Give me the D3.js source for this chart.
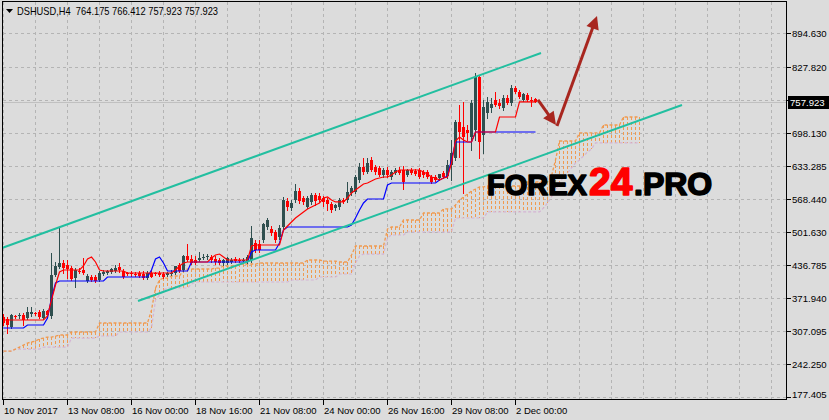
<!DOCTYPE html>
<html><head><meta charset="utf-8">
<script src="https://cdn.jsdelivr.net/npm/d3@7"></script>
<style>
html,body{margin:0;padding:0;background:#dcdcdc;overflow:hidden}
svg{display:block}
</style></head><body>
<svg id="chart" width="829" height="420"></svg>
<script>
// ---------------- DATA ----------------
const titleText = "DSHUSD,H4  764.175 766.412 757.923 757.923";
const lastPrice = 757.923;

const opens = [335.1,331.2,315.4,337.1,337.1,339.1,333.2,341.0,343.0,345.0,
333.2,346.9,337.1,417.9,433.6,441.5,437.6,431.6,411.9,425.7,
427.7,406.0,413.9,413.9,408.0,419.8,421.8,423.8,425.7,433.6,
425.7,421.8,421.8,419.8,421.8,419.8,411.9,421.8,421.8,421.8,
419.8,417.9,419.8,421.8,437.6,427.7,455.3,449.4,447.4,447.4,
451.4,453.3,453.3,449.4,447.4,441.5,441.5,443.5,449.4,447.4,
445.4,443.5,447.4,480.9,478.9,486.9,512.5,508.6,502.6,492.8,
512.5,563.7,549.9,565.7,583.4,569.6,551.9,561.8,575.6,573.6,
569.6,565.7,557.8,549.9,551.9,565.7,565.7,579.5,581.5,605.1,
630.7,620.8,644.5,630.7,628.8,614.9,624.8,611.0,618.9,624.8,
624.8,614.9,624.8,622.8,624.8,620.8,620.8,611.0,611.0,609.1,
618.9,613.0,634.7,648.5,719.4,709.6,703.7,689.9,703.7,808.1,
693.8,737.2,747.0,762.8,756.9,747.0,766.7,756.9,786.4,778.6,
762.8,772.6,762.8,764.175];
const highs = [341.0,335.1,341.0,339.1,343.0,343.0,354.8,354.8,345.0,348.9,
350.9,348.9,461.2,443.5,512.5,447.4,447.4,435.6,431.6,431.6,
451.4,419.8,417.9,417.9,425.7,427.7,427.7,431.6,437.6,441.5,
429.7,423.8,425.7,423.8,425.7,425.7,425.7,427.7,423.8,425.7,
423.8,423.8,427.7,431.6,441.5,457.3,478.9,457.3,455.3,463.2,
459.2,459.2,457.3,455.3,451.4,449.4,453.3,451.4,453.3,451.4,
451.4,457.3,514.5,486.9,486.9,520.4,530.2,514.5,506.6,516.4,
571.6,569.6,565.7,597.2,589.3,573.6,573.6,579.5,579.5,579.5,
573.6,569.6,561.8,557.8,569.6,569.6,601.2,593.3,614.9,638.6,
648.5,648.5,650.4,634.7,632.7,628.8,630.7,624.8,628.8,630.7,
632.7,626.8,628.8,626.8,628.8,624.8,624.8,614.9,614.9,616.9,
622.8,644.5,684.0,723.4,752.9,758.9,713.5,762.8,816.0,812.1,
762.8,768.7,766.7,778.6,764.8,772.6,772.6,792.4,790.4,782.5,
776.6,776.6,768.7,766.412];
const lows = [319.3,303.5,313.4,333.2,333.2,319.3,331.2,337.1,339.1,333.2,
331.2,333.2,333.2,415.9,431.6,421.8,411.9,408.0,394.2,421.8,
419.8,404.1,406.0,404.1,406.0,417.9,419.8,421.8,423.8,423.8,
411.9,417.9,415.9,415.9,413.9,410.0,410.0,413.9,417.9,415.9,
411.9,415.9,417.9,419.8,423.8,425.7,445.4,439.5,439.5,445.4,
449.4,449.4,443.5,439.5,439.5,437.6,439.5,441.5,443.5,443.5,
443.5,441.5,443.5,463.2,463.2,482.9,508.6,496.7,482.9,488.8,
508.6,546.0,546.0,561.8,559.8,557.8,549.9,557.8,555.8,561.8,
553.9,546.0,542.1,546.0,548.0,559.8,561.8,575.6,579.5,601.2,
616.9,618.9,622.8,616.9,613.0,611.0,611.0,607.1,616.9,616.9,
587.4,613.0,616.9,614.9,609.1,611.0,609.1,599.2,603.1,605.1,
609.1,609.1,605.1,644.5,650.4,579.5,684.0,664.3,684.0,648.5,
658.3,727.3,739.2,751.0,747.0,744.0,754.9,752.9,776.6,766.7,
760.8,760.8,751.0,757.923];
const closes = [323.3,319.3,339.1,335.1,339.1,329.2,345.0,345.0,341.0,335.1,
346.9,339.1,417.9,435.6,441.5,431.6,429.7,410.0,427.7,423.8,
421.8,415.9,408.0,406.0,421.8,423.8,425.7,429.7,431.6,427.7,
413.9,419.8,419.8,417.9,415.9,411.9,421.8,413.9,419.8,417.9,
413.9,421.8,421.8,435.6,425.7,455.3,447.4,441.5,441.5,451.4,
453.3,455.3,447.4,443.5,441.5,447.4,451.4,447.4,445.4,445.0,
447.4,453.3,490.8,467.1,467.1,518.4,526.3,500.6,486.9,510.5,
565.7,551.9,559.8,583.4,563.7,561.8,569.6,575.6,563.7,565.7,
561.8,557.8,546.0,555.8,565.7,561.8,581.5,589.3,611.0,630.7,
620.8,638.6,624.8,620.8,614.9,624.8,614.9,620.8,624.8,618.9,
601.2,624.8,618.9,616.9,611.0,614.9,611.0,601.2,605.1,616.9,
611.0,634.7,658.3,719.4,699.7,689.9,697.8,756.9,808.1,680.0,
749.0,758.9,754.9,752.9,751.0,766.7,756.9,786.4,778.6,768.7,
774.6,762.8,760.8,757.923];

// Ichimoku: Tenkan-sen (red), Kijun-sen (blue)
const tenkan = [329.2,329.2,329.2,329.2,329.2,329.2,329.2,329.2,329.2,329.2,
329.2,337.1,368.6,398.2,423.8,427.7,427.7,427.7,427.7,427.7,
435.6,449.4,453.3,443.5,427.7,425.7,425.7,425.7,425.7,425.7,
425.7,421.8,421.8,421.8,421.8,421.8,421.8,421.8,421.8,421.8,
421.8,421.8,421.8,427.7,435.6,441.5,443.5,443.5,443.5,443.5,
443.5,443.5,451.4,457.3,459.2,453.3,447.4,447.4,447.4,447.4,
447.4,447.4,475.0,477.0,477.0,477.0,477.0,477.0,477.0,477.0,
506.6,514.5,522.3,530.2,536.1,542.1,548.0,551.9,555.8,559.8,
569.6,571.6,565.7,561.8,561.8,561.8,569.6,579.5,585.4,591.4,
597.2,599.2,603.1,607.1,609.1,611.0,611.0,614.9,620.8,624.8,
624.8,624.8,624.8,624.8,624.8,620.8,616.9,611.0,609.1,605.1,
609.1,611.0,638.6,682.0,689.9,684.0,680.0,680.0,699.7,699.7,
699.7,699.7,699.7,699.7,729.3,729.3,729.3,729.3,729.3,758.9,
758.9,758.9,758.9,758.9];
const kijun = [313.4,313.4,313.4,313.4,313.4,313.4,319.3,319.3,319.3,319.3,
319.3,333.2,372.5,402.1,406.0,406.0,406.0,406.0,406.0,406.0,
406.0,406.0,406.0,406.0,406.0,406.0,413.9,413.9,413.9,413.9,
413.9,413.9,413.9,413.9,413.9,413.9,413.9,427.7,449.4,453.3,
441.5,425.7,425.7,425.7,425.7,425.7,425.7,443.5,443.5,443.5,
443.5,443.5,443.5,443.5,443.5,443.5,443.5,443.5,443.5,443.5,
443.5,443.5,463.2,467.1,467.1,467.1,467.1,467.1,467.1,480.9,
506.6,512.5,512.5,512.5,512.5,512.5,512.5,512.5,512.5,512.5,
512.5,512.5,512.5,512.5,512.5,512.5,512.5,516.4,530.2,546.0,
559.8,567.7,567.7,567.7,567.7,567.7,595.3,599.2,599.2,599.2,
599.2,599.2,599.2,599.2,599.2,599.2,599.2,599.2,599.2,605.1,
609.1,613.0,644.5,680.0,680.0,680.0,680.0,680.0,699.7,699.7,
699.7,699.7,699.7,699.7,699.7,699.7,699.7,699.7,699.7,699.7,
699.7,699.7,699.7,699.7];
// Senkou span A (sandy brown) and B (thistle), shifted 26 bars ahead
const spanA = [268.0,268.0,268.0,271.9,275.9,279.8,283.8,285.8,287.7,291.7,
293.6,295.6,295.6,297.6,299.6,299.6,299.6,305.5,305.5,305.5,
305.5,305.5,305.5,305.5,323.3,323.3,323.3,323.3,323.3,323.3,
323.3,323.3,323.3,323.3,323.3,323.3,323.3,348.9,392.2,408.0,
411.9,411.9,415.9,415.9,415.9,427.7,429.7,429.7,429.7,429.7,
429.7,429.7,429.7,431.6,431.6,435.6,435.6,435.6,435.6,439.5,
439.5,439.5,439.5,439.5,441.5,441.5,441.5,441.5,441.5,441.5,
441.5,441.5,441.5,441.5,441.5,441.5,447.4,447.4,447.4,447.4,
445.4,445.4,445.4,445.4,443.5,443.5,443.5,457.3,475.0,475.0,
475.0,475.0,475.0,475.0,475.0,475.0,508.6,512.5,512.5,512.5,
526.3,526.3,526.3,526.3,526.3,540.1,540.1,540.1,540.1,540.1,
548.0,548.0,548.0,555.8,565.7,571.6,577.5,583.4,587.4,591.4,
591.4,593.3,593.3,593.3,593.3,593.3,593.3,593.3,593.3,593.3,
601.2,601.2,601.2,601.2,601.2,601.2,601.2,613.0,644.5,682.0,
682.0,682.0,682.0,682.0,697.8,697.8,697.8,697.8,697.8,697.8,
713.5,713.5,713.5,713.5,713.5,729.3,729.3,729.3,729.3,729.3];
const spanB = [268.0,268.0,268.0,271.9,271.9,271.9,271.9,271.9,271.9,271.9,
275.9,275.9,275.9,275.9,275.9,275.9,275.9,293.6,293.6,293.6,
293.6,293.6,293.6,293.6,297.6,297.6,297.6,297.6,297.6,305.5,
305.5,305.5,305.5,305.5,305.5,305.5,305.5,313.4,368.6,378.5,
388.3,392.2,392.2,392.2,392.2,392.2,392.2,400.1,404.1,404.1,
404.1,404.1,404.1,404.1,404.1,404.1,404.1,404.1,404.1,404.1,
404.1,404.1,404.1,404.1,404.1,404.1,404.1,404.1,404.1,404.1,
404.1,404.1,408.0,408.0,408.0,408.0,408.0,408.0,408.0,413.9,
413.9,413.9,413.9,413.9,419.8,419.8,419.8,419.8,441.5,455.3,
459.2,459.2,459.2,459.2,459.2,459.2,490.8,496.7,496.7,496.7,
496.7,502.6,502.6,502.6,502.6,502.6,502.6,502.6,502.6,502.6,
502.6,502.6,502.6,530.2,530.2,530.2,530.2,530.2,530.2,530.2,
530.2,542.1,542.1,542.1,542.1,542.1,542.1,542.1,542.1,542.1,
542.1,542.1,542.1,542.1,542.1,549.9,559.8,571.6,585.4,599.2,
611.0,618.9,628.8,638.6,644.5,652.4,660.3,666.2,678.1,678.1,
678.1,678.1,678.1,678.1,678.1,678.1,678.1,678.1,678.1,678.1];

// Axis
const gridPrices = [894.630,827.820,762.975,698.130,633.285,568.440,501.630,436.785,371.940,307.095,242.250,177.405];
const priceLabels = ["894.630","827.820","","698.130","633.285","568.440","501.630","436.785","371.940","307.095","242.250","177.405"];
const dateIndex = [0,16,32,48,64,80,96,112,128];
const dateLabels = ["10 Nov 2017","13 Nov 08:00","16 Nov 00:00","18 Nov 16:00","21 Nov 08:00","24 Nov 00:00","26 Nov 16:00","29 Nov 08:00","2 Dec 00:00"];

// Drawn objects: [barIndex, price]
const upperChannel = [[-0.25,471.1],[134.5,855.4]];
const lowerChannel = [[33.75,366.6],[169.75,752.9]];
const arrows = [[[133.75,762.8],[138.25,713.5]],[[138.5,711.6],[148.5,928.4]]];
const watermarkParts = ["FOREX","24",".PRO"];

// ---------------- DRAW ----------------
const W = 829, H = 420;
const svg = d3.select("#chart");
const x = d3.scaleLinear().domain([0, 195.75]).range([3, 786]);
const y = d3.scaleLinear().domain([177.405, 827.82]).range([397, 67]);

svg.append("rect").attr("width", W).attr("height", H).attr("fill", "#dcdcdc");
svg.append("defs").append("clipPath").attr("id", "clip")
  .append("rect").attr("x", 3).attr("y", 2).attr("width", 783).attr("height", 397);
const g = svg.append("g").attr("clip-path", "url(#clip)");

const gridColor = "#b4b4b4";
g.selectAll(".vg").data(d3.range(0, 196, 8)).join("line")
  .attr("x1", d => Math.round(x(d)) + 0.5).attr("x2", d => Math.round(x(d)) + 0.5)
  .attr("y1", 2).attr("y2", 399)
  .attr("stroke", gridColor).attr("stroke-dasharray", "3,3").attr("shape-rendering", "crispEdges");
g.selectAll(".hg").data(gridPrices).join("line")
  .attr("y1", d => Math.round(y(d)) + 0.5).attr("y2", d => Math.round(y(d)) + 0.5)
  .attr("x1", 3).attr("x2", 786)
  .attr("stroke", gridColor).attr("stroke-dasharray", "3,3").attr("shape-rendering", "crispEdges");

// bid line
g.append("line").attr("x1", 3).attr("x2", 786)
  .attr("y1", Math.round(y(lastPrice)) + 0.5).attr("y2", Math.round(y(lastPrice)) + 0.5)
  .attr("stroke", "#c0c0c0").attr("shape-rendering", "crispEdges");

// cloud hatch
const cloudCol = "#f09a50";
const cloud = spanA.map((a, i) => ({i, a, b: spanB[i]}));
g.selectAll(".hatch").data(cloud).join("line")
  .attr("x1", d => Math.round(x(d.i)) + 0.5).attr("x2", d => Math.round(x(d.i)) + 0.5)
  .attr("y1", d => y(d.a)).attr("y2", d => y(d.b))
  .attr("stroke", cloudCol).attr("stroke-dasharray", "3,2").attr("shape-rendering", "crispEdges");

const line = d3.line().x((d, i) => x(i) + 0.5).y(d => y(d));
g.append("path").attr("d", line(spanB)).attr("fill", "none").attr("stroke", "#d4b4d4").attr("stroke-dasharray", "3,2").attr("stroke-width", 1.2);
g.append("path").attr("d", line(spanA)).attr("fill", "none").attr("stroke", cloudCol).attr("stroke-dasharray", "3,2").attr("stroke-width", 1.3);

// candles
const bars = opens.map((o, i) => ({i, o, h: highs[i], l: lows[i], c: closes[i]}));
const bullCol = "#2f4f4f", bearCol = "#ff0000";
const cg = g.append("g").attr("shape-rendering", "crispEdges");
cg.selectAll(".wick").data(bars).join("line")
  .attr("x1", d => Math.round(x(d.i)) + 0.5).attr("x2", d => Math.round(x(d.i)) + 0.5)
  .attr("y1", d => Math.round(y(d.h))).attr("y2", d => Math.round(y(d.l)) + 1)
  .attr("stroke", d => d.c >= d.o ? bullCol : bearCol);
cg.selectAll(".body").data(bars).join("rect")
  .attr("x", d => Math.round(x(d.i)) - 1).attr("width", 3)
  .attr("y", d => Math.round(y(Math.max(d.o, d.c))))
  .attr("height", d => Math.max(1, Math.round(y(Math.min(d.o, d.c))) - Math.round(y(Math.max(d.o, d.c)))))
  .attr("fill", d => d.c >= d.o ? bullCol : bearCol);

g.append("path").attr("d", line(kijun)).attr("fill", "none").attr("stroke", "#0000ff").attr("stroke-width", 1.2);
g.append("path").attr("d", line(tenkan)).attr("fill", "none").attr("stroke", "#ff0000").attr("stroke-width", 1.2);

// channel
const seg = d3.line().x(d => x(d[0])).y(d => y(d[1]));
[upperChannel, lowerChannel].forEach(c => {
  g.append("path").attr("d", seg(c)).attr("fill", "none").attr("stroke", "#22bfa0").attr("stroke-width", 2);
});

// watermark (three separate pieces, natural widths)
const wmSpec = [
  {t: watermarkParts[0], x: 487, size: 29, col: "#000"},
  {t: watermarkParts[1], x: 589, size: 39, col: "#ff0000"},
  {t: watermarkParts[2], x: 634, size: 32, col: "#000"}
];
g.selectAll(".wm").data(wmSpec).join("text")
  .attr("x", d => d.x).attr("y", 195)
  .attr("font-family", "Liberation Sans").attr("font-weight", "bold")
  .attr("font-size", d => d.size).attr("fill", d => d.col).attr("stroke", d => d.col).attr("stroke-width", 1.6)
  .attr("stroke-linejoin", "round")
  .text(d => d.t);

// arrows
const arrowCol = "#a8261f";
arrows.forEach(a => {
  const x0 = x(a[0][0]), y0 = y(a[0][1]), x1 = x(a[1][0]), y1 = y(a[1][1]);
  const dx = x1 - x0, dy = y1 - y0, len = Math.hypot(dx, dy);
  const ux = dx / len, uy = dy / len, hl = 13, hw = 6.5;
  const bx = x1 - ux * hl, by = y1 - uy * hl;
  g.append("line").attr("x1", x0).attr("y1", y0).attr("x2", bx + ux * 2).attr("y2", by + uy * 2)
    .attr("stroke", arrowCol).attr("stroke-width", 3);
  g.append("path").attr("d", `M${x1},${y1}L${bx - uy * hw},${by + ux * hw}L${bx + uy * hw},${by - ux * hw}Z`)
    .attr("fill", arrowCol);
});

// border
svg.append("rect").attr("x", 2.5).attr("y", 1.5).attr("width", 784).attr("height", 398)
  .attr("fill", "none").attr("stroke", "#000").attr("shape-rendering", "crispEdges");

// price axis
const axisFont = "Liberation Sans";
const pa = svg.append("g");
pa.selectAll(".pt").data(gridPrices).join("line")
  .attr("x1", 787).attr("x2", 791)
  .attr("y1", d => Math.round(y(d)) + 0.5).attr("y2", d => Math.round(y(d)) + 0.5)
  .attr("stroke", "#000").attr("shape-rendering", "crispEdges");
pa.selectAll(".pl").data(gridPrices.map((p, k) => ({p, t: priceLabels[k]})).filter(d => d.t)).join("text")
  .attr("x", 792).attr("y", d => Math.min(Math.round(y(d.p)), 394) + 3.5)
  .attr("font-family", axisFont).attr("font-size", 9.6).attr("fill", "#000").text(d => d.t);
const yl = Math.round(y(lastPrice));
pa.append("rect").attr("x", 788).attr("y", yl - 6).attr("width", 41).attr("height", 13).attr("fill", "#000");
pa.append("text").attr("x", 790).attr("y", yl + 4).attr("font-family", axisFont).attr("font-size", 9.6)
  .attr("fill", "#fff").text(lastPrice.toFixed(3));

// date axis
const da = svg.append("g");
da.selectAll(".dt").data(dateIndex).join("line")
  .attr("x1", d => Math.round(x(d)) + 0.5).attr("x2", d => Math.round(x(d)) + 0.5)
  .attr("y1", 400).attr("y2", 405).attr("stroke", "#000").attr("shape-rendering", "crispEdges");
da.selectAll(".dl").data(dateIndex.map((d, k) => ({d, t: dateLabels[k]}))).join("text")
  .attr("x", d => Math.round(x(d.d)) + 1).attr("y", 414)
  .attr("font-family", axisFont).attr("font-size", 9.5).attr("fill", "#000").text(d => d.t);

// title
svg.append("path").attr("d", "M6,9L13,9L9.5,13Z").attr("fill", "#000");
svg.append("text").attr("x", 17).attr("y", 15).attr("font-family", axisFont).attr("font-size", 11)
  .attr("fill", "#000").style("white-space", "pre").attr("textLength", 201).attr("lengthAdjust", "spacingAndGlyphs")
  .text(titleText);
</script>
</body></html>
